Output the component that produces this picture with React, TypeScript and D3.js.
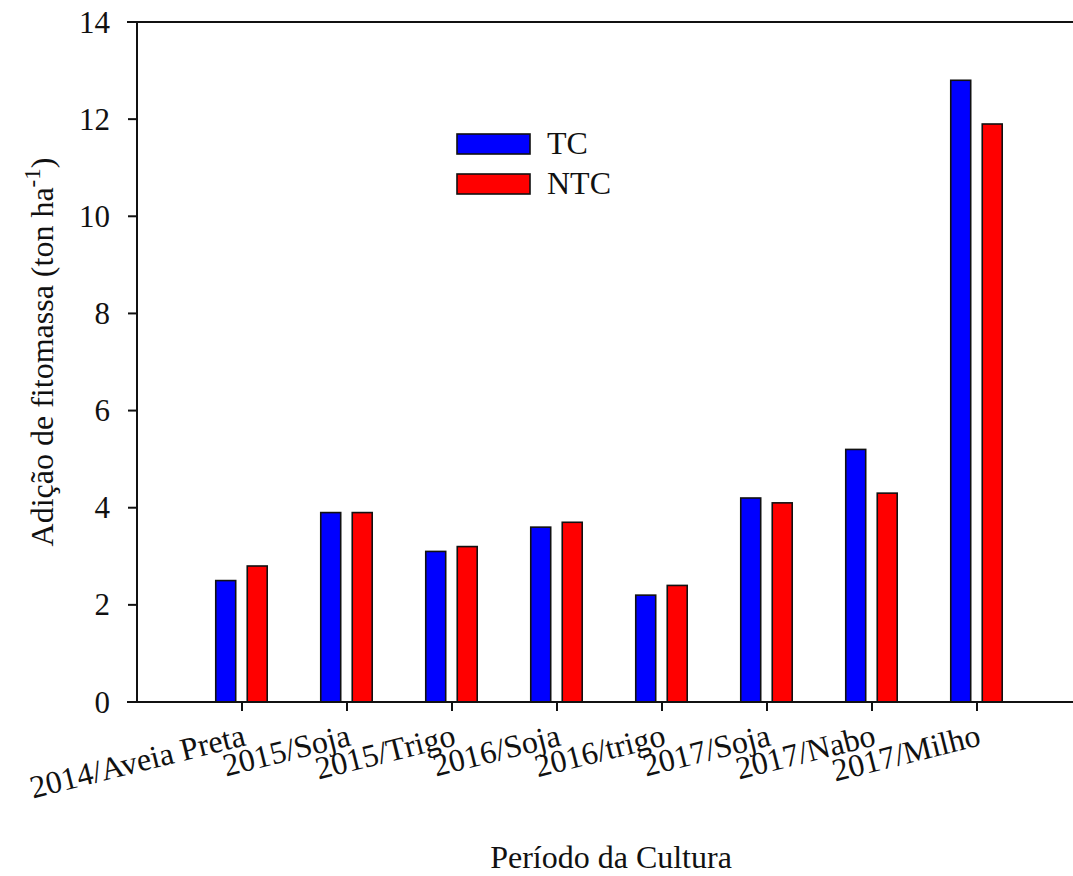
import React from "react";
import * as d3 from "d3";

const categories = [
  "2014/Aveia Preta",
  "2015/Soja",
  "2015/Trigo",
  "2016/Soja",
  "2016/trigo",
  "2017/Soja",
  "2017/Nabo",
  "2017/Milho",
];
const tcValues = [2.5, 3.9, 3.1, 3.6, 2.2, 4.2, 5.2, 12.8];
const ntcValues = [2.8, 3.9, 3.2, 3.7, 2.4, 4.1, 4.3, 11.9];
const yTicks = [0, 2, 4, 6, 8, 10, 12, 14];

const W = 1073;
const H = 876;
const FONT = '"Liberation Serif", "Times New Roman", Times, serif';
const BLUE = "#0000ff";
const RED = "#ff0000";

export default function App() {
  const x = d3.scaleLinear().domain([0, categories.length + 1]).range([137, 1082]);
  const y = d3.scaleLinear().domain([0, 14]).range([702, 22]);
  const barW = x(0.19) - x(0);

  const series = [
    { name: "TC", values: tcValues, color: BLUE, offset: -0.25 },
    { name: "NTC", values: ntcValues, color: RED, offset: 0.05 },
  ];

  return (
    <svg
      width={W}
      height={H}
      style={{ position: "absolute", left: 0, top: 0, background: "#fff", fontFamily: FONT }}
    >
      {/* bars */}
      {series.map((s) =>
        s.values.map((v, i) => (
          <rect
            key={s.name + i}
            x={x(i + 1 + s.offset)}
            y={y(v)}
            width={barW}
            height={y(0) - y(v)}
            fill={s.color}
            stroke="#111"
            strokeWidth={1.6}
          />
        ))
      )}

      {/* frame: left axis, bottom axis and top border */}
      <line x1={137} x2={137} y1={y(14)} y2={y(0)} stroke="#111" strokeWidth={2} />
      <line x1={127} x2={W} y1={y(0)} y2={y(0)} stroke="#111" strokeWidth={2} />
      <line x1={127} x2={W} y1={y(14)} y2={y(14)} stroke="#111" strokeWidth={2} />

      {/* y ticks */}
      {yTicks.map((t) => (
        <g key={t}>
          <line x1={128} x2={137} y1={y(t)} y2={y(t)} stroke="#111" strokeWidth={2} />
          <text
            x={110}
            y={y(t)}
            dy="0.34em"
            textAnchor="end"
            fontSize={31}
            fill="#111"
          >
            {t}
          </text>
        </g>
      ))}

      {/* x ticks and rotated category labels */}
      {categories.map((c, i) => {
        const cx = x(i + 1);
        return (
          <g key={c}>
            <line x1={cx} x2={cx} y1={y(0)} y2={y(0) + 9} stroke="#111" strokeWidth={2} />
            <text
              transform={`translate(${cx + 5},745) rotate(-14)`}
              textAnchor="end"
              fontSize={32}
              fill="#111"
            >
              {c}
            </text>
          </g>
        );
      })}

      {/* axis titles */}
      <text x={611} y={868} textAnchor="middle" fontSize={32} fill="#111">
        Período da Cultura
      </text>
      <text
        transform="translate(53,352) rotate(-90)"
        textAnchor="middle"
        fontSize={32}
        fill="#111"
      >
        Adição de fitomassa (ton ha
        <tspan dy={-13} fontSize={23}>-1</tspan>
        <tspan dy={13}>)</tspan>
      </text>

      {/* legend */}
      {series.map((s, i) => (
        <g key={s.name}>
          <rect
            x={457}
            y={134 + i * 40}
            width={73}
            height={20}
            fill={s.color}
            stroke="#111"
            strokeWidth={1.6}
          />
          <text x={547} y={154 + i * 40} fontSize={32} fill="#111">
            {s.name}
          </text>
        </g>
      ))}
    </svg>
  );
}
